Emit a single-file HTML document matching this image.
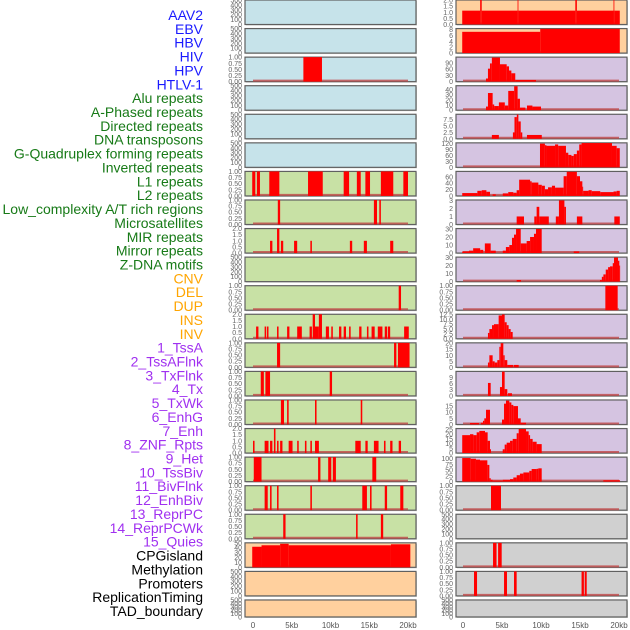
<!DOCTYPE html>
<html><head><meta charset="utf-8">
<style>
html,body{margin:0;padding:0;background:#fff;width:630px;height:630px;overflow:hidden}
svg{display:block;font-family:"Liberation Sans",sans-serif}
</style></head>
<body>
<svg id="chart" width="630" height="630" viewBox="0 0 630 630"></svg>
<script>
// ---- data (kb start, kb end, value) ----
const labelNames = ["AAV2","EBV","HBV","HIV","HPV","HTLV-1","Alu repeats","A-Phased repeats","Directed repeats","DNA transposons","G-Quadruplex forming repeats","Inverted repeats","L1 repeats","L2 repeats","Low_complexity A/T rich regions","Microsatellites","MIR repeats","Mirror repeats","Z-DNA motifs","CNV","DEL","DUP","INS","INV","1_TssA","2_TssAFlnk","3_TxFlnk","4_Tx","5_TxWk","6_EnhG","7_Enh","8_ZNF_Rpts","9_Het","10_TssBiv","11_BivFlnk","12_EnhBiv","13_ReprPC","14_ReprPCWk","15_Quies","CPGisland","Methylation","Promoters","ReplicationTiming","TAD_boundary"];
const labelGroups = [0,0,0,0,0,0,1,1,1,1,1,1,1,1,1,1,1,1,1,2,2,2,2,2,3,3,3,3,3,3,3,3,3,3,3,3,3,3,3,4,4,4,4,4];
const xTickValues = [0,5,10,15,20];
const xTickLabels = ["0","5kb","10kb","15kb","20kb"];

const L2 = [[6.5,8.9,1]];
const L6 = [[-0.1,0.3,1],[0.5,0.9,1],[2.1,3.4,1],[7.1,9.0,1],[11.7,12.4,1],[13.4,13.9,1],[14.5,15.1,1],[16.5,18.1,1],[19.4,20,1]];
const L7 = [[3.2,3.5,1],[15.6,16.0,1],[16.3,16.5,1]];
const L8 = [[2.2,2.5,1],[3.1,3.4,2],[3.6,3.9,1],[5.3,5.7,1],[7.4,7.6,1],[12.5,12.8,1],[14.3,14.7,1],[17.7,18.1,1]];
const L10 = [[18.8,19.1,1]];
const L11 = [[0.4,0.7,1],[1.5,1.7,1],[1.8,2.0,1],[3.1,3.3,1],[4.4,4.7,1],[5.7,6.3,1],[7.3,7.6,1],[7.7,8.0,2],[8.0,8.5,1],[8.5,8.9,2],[9.4,9.8,1],[10.1,10.3,1],[11.1,11.4,1],[11.7,12.0,1],[12.4,12.6,1],[13.7,14.0,1],[14.7,14.9,1],[15.3,15.7,1],[16.1,16.7,1],[17.0,17.3,1],[17.4,17.7,1],[19.5,20.1,1]];
const L12 = [[3.1,3.5,1],[18.2,18.5,1],[18.7,20.2,1]];
const L13 = [[1.0,1.4,1],[1.6,2.2,1],[9.9,10.2,1]];
const L14 = [[3.6,4.0,1],[4.4,4.6,1],[8.0,8.2,1],[13.9,14.1,1]];
const L15 = [[0.0,0.2,1],[1.5,2.0,1],[2.2,2.5,1],[2.7,2.9,2],[3.1,3.3,1],[3.5,3.8,1],[4.6,5.1,1],[5.7,5.9,1],[6.7,6.9,1],[7.4,7.6,1],[8.0,8.5,1],[13.2,13.9,1],[14.5,14.8,1],[15.6,16.2,1],[16.9,17.1,1],[17.7,18.0,1],[18.8,19.1,1]];
const L16 = [[0.1,1.1,1],[8.4,8.7,1],[9.7,10.1,1],[10.3,10.7,1],[15.4,15.9,1]];
const L17 = [[1.5,1.9,1],[2.2,2.4,1],[3.1,3.3,1],[7.4,7.6,1],[14.1,14.7,1],[15.1,15.3,1],[17.0,17.3,1],[19.0,19.4,1]];
const L18 = [[3.9,4.2,1],[13.3,13.5,1],[16.5,16.8,1]];
const L19 = [[-0.1,1.1,42],[1.1,3.5,45],[3.5,4.6,48],[4.6,17.8,45],[17.8,20.3,47]];

const R0 = [[-0.1,2.2,1.13],[2.2,2.4,2],[2.4,7.0,1.13],[7.0,7.1,2],[7.1,14.4,1.13],[14.4,14.6,2],[14.6,19.3,1.13],[19.3,19.4,2],[19.4,20.1,1.13]];
const R1 = [[-0.1,9.9,7.2],[9.9,20.1,8.2]];
const R2 = [[2.95,3.2,15],[3.2,3.46,62],[3.46,3.7,87],[3.7,4.74,115],[4.74,5.6,83],[5.6,5.9,73],[5.9,6.2,53],[6.2,6.7,40],[6.7,9.36,8]];
const R3 = [[2.95,3.2,7],[3.2,3.8,33],[3.8,4.0,11],[4.0,4.6,8],[4.6,5.36,15],[5.36,5.8,9],[5.8,6.56,37],[6.56,7.0,46],[7.0,7.3,22],[7.3,8.0,5],[8.2,8.9,9],[8.9,10.0,7]];
const R4 = [[3.7,4.6,1.5],[6.4,6.6,2.5],[6.6,6.9,8.5],[6.9,7.1,9.5],[7.1,7.4,6.8],[7.4,7.6,2.5],[8.2,10.1,1.5]];
const R5 = [[9.87,10.5,120],[10.5,10.7,112],[10.7,11.8,109],[11.8,12.2,116],[12.2,13.2,109],[13.2,13.5,74],[13.5,13.9,63],[13.9,14.2,58],[14.2,14.6,67],[14.6,14.9,85],[14.9,15.2,116],[15.2,19.1,123],[19.1,19.7,109],[19.7,20.1,97]];
const R6 = [[-0.1,1.84,9],[1.84,2.4,16],[2.4,3.0,18],[3.0,3.46,13],[3.8,4.2,5],[5.1,5.8,8],[5.8,6.45,12],[6.45,6.88,10],[6.88,7.2,18],[7.2,8.6,51],[8.6,8.8,46],[8.8,9.66,42],[9.66,10.1,35],[10.1,10.5,32],[10.5,10.9,21],[10.9,11.4,27],[11.4,11.8,32],[11.8,12.9,26],[12.9,13.3,62],[13.3,14.6,76],[14.6,15.0,62],[15.0,15.3,46],[15.3,15.4,29],[15.4,16.1,16],[16.1,16.5,18],[16.5,17.6,15],[17.6,19.3,12],[19.3,19.7,14],[19.7,20.1,16]];
const R7 = [[6.88,7.82,1],[9.14,9.44,1],[9.44,9.78,2.2],[9.78,11.0,1],[11.9,12.3,1],[12.3,13.0,3],[13.0,13.2,2.2],[14.6,15.3,1],[19.4,20.1,1]];
const R8 = [[-0.1,0.77,2],[0.77,1.3,3],[1.3,2.2,6],[2.2,2.6,4],[2.8,3.55,12],[3.55,4.2,3],[5.1,5.5,3],[5.5,5.94,7.5],[5.94,6.28,10],[6.28,6.54,19],[6.54,6.8,23],[6.8,7.4,30],[7.4,8.16,12],[8.16,8.6,15],[8.6,9.1,20],[9.1,9.36,24],[9.36,10.09,30],[14.2,14.9,2]];
const R9 = [[6.88,7.44,2],[17.56,17.8,2],[17.8,18.0,6],[18.0,18.3,9],[18.3,18.6,15],[18.6,18.85,18],[18.85,19.2,19],[19.2,19.36,23],[19.36,19.87,30],[19.87,20.04,26],[20.04,20.13,20]];
const R10 = [[18.25,19.83,1]];
const R11 = [[3.2,3.38,3],[3.38,3.72,5],[3.72,3.97,7],[3.97,4.57,7.5],[4.57,5.0,12],[5.0,5.34,12.5],[5.34,5.6,8.5],[5.6,5.85,7],[5.85,6.11,5],[6.11,6.37,3.5]];
const R12 = [[3.2,3.38,4],[3.38,3.8,10],[3.8,4.06,5],[4.06,4.4,4],[4.4,4.66,6],[4.66,4.83,17],[4.83,5.17,20],[5.17,5.34,10],[5.34,5.68,6],[5.68,6.45,2],[6.54,7.14,2]];
const R13 = [[3.2,3.55,6.3],[4.74,5.0,4.3],[5.0,5.34,11.8],[5.34,5.68,3.3],[5.77,6.28,1.3]];
const R14 = [[0.9,2.05,1.2],[2.3,2.56,1.5],[2.56,2.73,3],[2.73,2.95,5],[2.95,3.46,12],[5.0,5.26,4],[5.26,5.51,17],[5.51,5.94,19.5],[5.94,6.2,18],[6.2,6.45,16],[6.45,7.05,15],[7.05,7.4,5],[7.4,8.08,1.5]];
const R15 = [[-0.1,0.9,19],[0.9,1.33,20],[1.33,1.75,19],[1.75,2.09,22],[2.09,2.82,23.5],[2.82,3.16,22],[3.16,3.46,13],[3.46,3.59,4],[5.09,5.34,4],[5.34,5.6,9],[5.6,6.03,11],[6.03,6.37,13],[6.37,6.88,15],[6.88,7.14,21],[7.14,8.08,25.5],[8.08,8.42,23],[8.42,8.6,19],[8.6,8.93,15],[8.93,9.44,12],[9.44,10.09,9.5]];
const R16 = [[-0.1,0.98,103],[0.98,1.66,100],[1.66,2.18,96],[2.18,3.12,93],[3.12,3.38,73],[3.38,3.55,15],[3.55,3.8,8],[3.8,5.1,5],[5.1,6.03,8],[6.03,6.45,11],[6.45,6.88,18],[6.88,7.3,28],[7.3,7.74,35],[7.74,8.5,40],[8.5,8.8,47],[8.8,9.44,55],[9.44,9.66,56],[9.66,10.09,58],[17.99,20.13,6]];
const R17 = [[3.59,4.87,1]];
const R19 = [[3.85,4.3,1],[4.5,4.96,1]];
const R20 = [[1.41,1.8,1],[5.26,5.64,1],[6.54,6.88,1],[15.2,15.5,1],[15.6,15.86,1]];

const T500 = ["0","100","200","300","400","500"];
const T1 = ["0.00","0.25","0.50","0.75","1.00"];
const T2 = ["0.0","0.5","1.0","1.5","2.0"];

const BLUE="#c6e3ea", ORNG="#ffd09e", PURP="#d5c4e1", GRN="#c8e1a5", GRY="#d0d0d0";
const panels = [
 [0,0,BLUE,500,[0,100,200,300,400,500],T500,null],
 [0,1,BLUE,500,[0,100,200,300,400,500],T500,null],
 [0,2,BLUE,1,[0,.25,.5,.75,1],T1,L2],
 [0,3,BLUE,500,[0,100,200,300,400,500],T500,null],
 [0,4,BLUE,500,[0,100,200,300,400,500],T500,null],
 [0,5,BLUE,500,[0,100,200,300,400,500],T500,null],
 [0,6,GRN,1,[0,.25,.5,.75,1],T1,L6],
 [0,7,GRN,1,[0,.25,.5,.75,1],T1,L7],
 [0,8,GRN,2,[0,.5,1,1.5,2],T2,L8],
 [0,9,GRN,500,[0,100,200,300,400,500],T500,null],
 [0,10,GRN,1,[0,.25,.5,.75,1],T1,L10],
 [0,11,GRN,2,[0,.5,1,1.5,2],T2,L11],
 [0,12,GRN,1,[0,.25,.5,.75,1],T1,L12],
 [0,13,GRN,1,[0,.25,.5,.75,1],T1,L13],
 [0,14,GRN,1,[0,.25,.5,.75,1],T1,L14],
 [0,15,GRN,2,[0,.5,1,1.5,2],T2,L15],
 [0,16,GRN,1,[0,.25,.5,.75,1],T1,L16],
 [0,17,GRN,1,[0,.25,.5,.75,1],T1,L17],
 [0,18,GRN,1,[0,.25,.5,.75,1],T1,L18],
 [0,19,ORNG,50,[0,10,20,30,40,50],["0","10","20","30","40","50"],L19],
 [0,20,ORNG,500,[0,100,200,300,400,500],T500,null],
 [0,21,ORNG,500,[0,100,200,300,400,500],T500,null],
 [1,0,ORNG,2,[0,.5,1,1.5,2],T2,R0],
 [1,1,ORNG,8.3,[0,2,4,6,8],["0","2","4","6","8"],R1],
 [1,2,PURP,117,[0,30,60,90],["0","30","60","90"],R2],
 [1,3,PURP,47,[0,10,20,30,40],["0","10","20","30","40"],R3],
 [1,4,PURP,9.6,[0,2.5,5,7.5],["0.0","2.5","5.0","7.5"],R4],
 [1,5,PURP,124,[0,30,60,90,120],["0","30","60","90","120"],R5],
 [1,6,PURP,77,[0,20,40,60],["0","20","40","60"],R6],
 [1,7,PURP,3.05,[0,1,2,3],["0","1","2","3"],R7],
 [1,8,PURP,30.5,[0,10,20,30],["0","10","20","30"],R8],
 [1,9,PURP,30.5,[0,10,20,30],["0","10","20","30"],R9],
 [1,10,PURP,1,[0,.25,.5,.75,1],T1,R10],
 [1,11,PURP,12.6,[0,2.5,5,7.5,10,12.5],["0.0","2.5","5.0","7.5","10.0","12.5"],R11],
 [1,12,PURP,20.3,[0,5,10,15,20],["0","5","10","15","20"],R12],
 [1,13,PURP,11.9,[0,3,6,9],["0","3","6","9"],R13],
 [1,14,PURP,20,[0,5,10,15],["0","5","10","15"],R14],
 [1,15,PURP,26,[0,5,10,15,20,25],["0","5","10","15","20","25"],R15],
 [1,16,PURP,107,[0,25,50,75,100],["0","25","50","75","100"],R16],
 [1,17,GRY,1,[0,.25,.5,.75,1],T1,R17],
 [1,18,GRY,500,[0,100,200,300,400,500],T500,null],
 [1,19,GRY,1,[0,.25,.5,.75,1],T1,R19],
 [1,20,GRY,1,[0,.25,.5,.75,1],T1,R20],
 [1,21,GRY,500,[0,100,200,300,400,500],T500,null]
];

const NS="http://www.w3.org/2000/svg";
const svg=document.getElementById('chart');
function mk(tag,attrs,parent){const e=document.createElementNS(NS,tag);for(const k in attrs)e.setAttribute(k,attrs[k]);(parent||svg).appendChild(e);return e;}

const colX=[245,456], colW=171;
const zeroX=[253,463], pxPerKb=[7.75,7.8];
function xScale(col,kb){return zeroX[col]+kb*pxPerKb[col];}
function rowTop(r){return r*28.57;}
function rowH(r){return r===21?17:24.5;}
function yScale(r,ymax,v){return rowTop(r)+rowH(r)-(v/ymax)*rowH(r);}

const groupColors=["#1a1aff","#177a17","#ffa500","#a030f0","#000000"];
labelNames.forEach((n,i)=>{
  const t=mk('text',{x:203,y:15+i*13.86+5,'text-anchor':'end','font-size':14,fill:groupColors[labelGroups[i]]});
  t.textContent=n;
  
  
});

panels.forEach(p=>{
  const [col,r,bg,ymax,tv,tl,bars]=p;
  const g=mk('g',{});
  
  
  const top=rowTop(r),h=rowH(r);
  mk('rect',{x:colX[col]+1,y:top+1,width:colW,height:h,fill:'#a0a8a0',opacity:0.5},g);
  mk('rect',{x:colX[col],y:top,width:colW,height:h,fill:bg,stroke:'#606060','stroke-width':1.2},g);
  if(bars){
    const bl=mk('line',{x1:xScale(col,0),x2:xScale(col,20),y1:top+h-1,y2:top+h-1,stroke:'#c04848','stroke-width':2,opacity:0.8},g);
    
    
    bars.forEach(b=>{
      const x1=xScale(col,b[0]),x2=xScale(col,b[1]);
      const y=yScale(r,ymax,Math.min(b[2],ymax));
      const rc=mk('rect',{x:x1,y:y,width:Math.max(0.8,x2-x1),height:top+h-y,fill:'#ff0000'},g);
      
      
    });
  }
  tv.forEach((v,i)=>{
    const t=mk('text',{x:colX[col]-3,y:yScale(r,ymax,v)+2.5,'text-anchor':'end','font-size':7,fill:'#666'},g);
    t.textContent=tl[i];
    
    
  });
});

[0,1].forEach(col=>{
  xTickValues.forEach((v,i)=>{
    const t=mk('text',{x:xScale(col,v),y:628,'text-anchor':'middle','font-size':8,fill:'#555'});
    t.textContent=xTickLabels[i];
    
    
  });
});
</script>
</body></html>
